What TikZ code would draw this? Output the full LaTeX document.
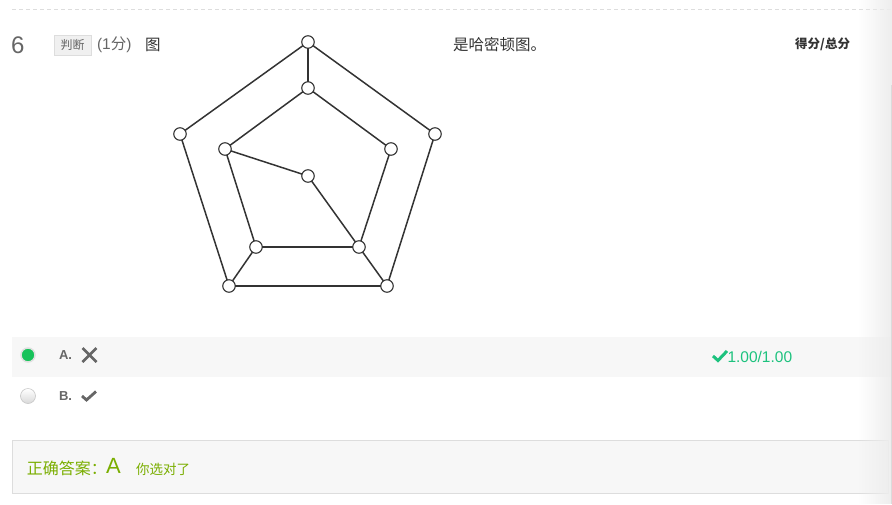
\documentclass[tikz,border=0pt]{standalone}
\usepackage{fontspec}
\setmainfont{Liberation Sans}
\newfontfamily\cjk{Noto Sans CJK SC}
\usetikzlibrary{positioning, fadings}
\definecolor{inkgray}{HTML}{333333}
\definecolor{midgray}{HTML}{666666}
\definecolor{rowgray}{HTML}{F7F7F7}
\definecolor{linegray}{HTML}{DDDDDD}
\definecolor{okgreen}{HTML}{1DC27E}
\definecolor{radiogreen}{HTML}{17C25A}
\definecolor{ansgreen}{HTML}{7AAE00}
\tikzfading[name=shadefade, left color=transparent!100, right color=transparent!0]

\begin{document}
\begin{tikzpicture}[x=1pt, y=-1pt, every node/.style={inner sep=0, outer sep=0}, vert/.style={circle, draw=inkgray, fill=white, line width=1.1pt, minimum size=12.5pt}, edge/.style={inkgray, line width=1.5pt}, txt/.style={anchor=west, text=inkgray, font=\cjk\fontsize{15.5}{15.5}\selectfont}, icon/.style={midgray, line width=2.6pt}]
  \useasboundingbox (0,0) rectangle (892,504);
  \draw [linegray, dash pattern=on 4pt off 3pt] (12,9) -- (892,9);
  % question line
  \node [anchor=west, text=midgray, font=\fontsize{24}{24}\selectfont] (qnum) at (11,45) {6};
  \node [draw=linegray, fill=black!6, text=midgray, font=\cjk\fontsize{12}{12}\selectfont, minimum width=37pt, minimum height=20pt] (qtype) at (72.5,45) {判断};
  \node [txt, text=midgray, font=\fontsize{15.5}{15.5}\selectfont, right=6pt of qtype] (qscore) {(1{\cjk 分})};
  \node [txt] (qpre) at (145,45) {图};
  \node [txt] (qpost) at (453,45) {是哈密顿图。};
  \node [anchor=east, text=inkgray, font=\cjk\bfseries\fontsize{12.5}{12.5}\selectfont] (qtotal) at (850,44) {得分/总分};
  % the graph
  \begin{scope}
    \node [vert] (o1) at (308,42) {};
    \node [vert] (o2) at (435,134) {};
    \node [vert] (o3) at (387,286) {};
    \node [vert] (o4) at (229,286) {};
    \node [vert] (o5) at (180,134) {};
    \node [vert] (i1) at (308,88) {};
    \node [vert] (i2) at (391,149) {};
    \node [vert] (i3) at (359,247) {};
    \node [vert] (i4) at (256,247) {};
    \node [vert] (i5) at (225,149) {};
    \node [vert] (c) at (308,176) {};
    \foreach \a/\b in {o1/o2, o2/o3, o3/o4, o4/o5, o5/o1, i1/i2, i2/i3, i3/i4, i4/i5, i5/i1, o1/i1, o3/i3, o4/i4, i5/c, c/i3} {\draw [edge] (\a) -- (\b);};
  \end{scope}
  % options
  \fill [rowgray] (12,337) rectangle (892,377);
  \node [circle, fill=radiogreen, draw=black!12, line width=1.5pt, minimum size=14pt] (ra) at (28,355) {};
  \node [circle, top color=white, bottom color=black!15, draw=black!22, line width=0.6pt, minimum size=15pt] (rb) at (28,396) {};
  \node [anchor=west, text=midgray, font=\bfseries\fontsize{13}{13}\selectfont] (la) at (59,355) {A.};
  \node [anchor=west, text=midgray, font=\bfseries\fontsize{13}{13}\selectfont] (lb) at (59,396) {B.};
  \coordinate (xa) at (89.5,355);
  \draw [icon] ([shift={(-7,-7)}]xa) -- ([shift={(7,7)}]xa) ([shift={(-7,7)}]xa) -- ([shift={(7,-7)}]xa);
  \coordinate (cb) at (89,396);
  \draw [icon, line width=2.8pt] ([shift={(-7,0)}]cb) -- ([shift={(-2.5,4)}]cb) -- ([shift={(7,-4.5)}]cb);
  \coordinate (ck) at (720,356);
  \draw [okgreen, line width=3pt] ([shift={(-7,0)}]ck) -- ([shift={(-2,4.5)}]ck) -- ([shift={(7,-5)}]ck);
  \node [anchor=west, text=okgreen, font=\fontsize{15.5}{15.5}\selectfont] (pts) at (727.5,357) {1.00/1.00};
  % answer box
  \draw [linegray, fill=rowgray, line width=1pt] (12,440) rectangle (888,493);
  \node [txt, text=ansgreen, font=\cjk\fontsize{16}{16}\selectfont] (ans) at (27,468) {正确答案：};
  \node [anchor=west, text=ansgreen, font=\fontsize{22}{22}\selectfont] (ansl) at (106,466) {A};
  \node [txt, text=ansgreen, font=\cjk\fontsize{13.5}{13.5}\selectfont] (ansok) at (136,469) {你选对了};
  % right shade
  \fill [black!7, path fading=shadefade] (858,0) rectangle (892,504);
  \draw [black!14, line width=0.8pt] (891,85) -- (891,504);
\end{tikzpicture}
\end{document}
